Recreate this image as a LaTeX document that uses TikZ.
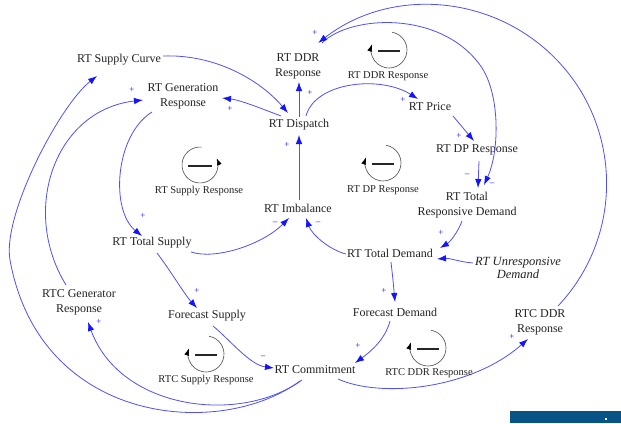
\documentclass[tikz,border=0pt]{standalone}
\usepackage{fontspec}
\setmainfont{Liberation Serif}
\usetikzlibrary{arrows.meta,calc}
\definecolor{lnk}{RGB}{80,80,245}
\definecolor{arr}{RGB}{20,20,255}
\definecolor{barc}{RGB}{8,84,134}
\definecolor{txt}{RGB}{35,35,35}
\tikzset{
  var/.style={inner sep=1pt, align=center, font=\fontsize{12}{15}\selectfont, text=txt},
  link/.style={draw=lnk, line width=0.8pt, -{Latex[length=9pt,width=6.5pt,color=arr]}},
  pol/.style={text=arr, font=\fontsize{9}{9}\selectfont, inner sep=0pt},
  looplab/.style={font=\fontsize{10.5}{12}\selectfont, text=txt, inner sep=0pt},
  loopc/.style={draw=black!70, line width=0.6pt, -{Latex[length=7pt,width=5pt,color=black]}},
  loopminus/.style={draw=black!85, line width=1.1pt},
}
\begin{document}
\begin{tikzpicture}[x=1pt,y=-1pt]
\fill[white] (0,0) rectangle (621,423);
\useasboundingbox (0,0) rectangle (621,423);

% variables
\node[var] (supcurve) at (119,60) {RT Supply Curve};
\node[var] (genresp) at (183,96) {RT Generation\\Response};
\node[var] (ddrresp) at (298,66) {RT DDR\\Response};
\node[var] (dispatch) at (299,125) {RT Dispatch};
\node[var] (price) at (430,107) {RT Price};
\node[var] (dpresp) at (477,150) {RT DP Response};
\node[var] (totresp) at (467,205) {RT Total\\Responsive Demand};
\node[var] (imbal) at (298,208) {RT Imbalance};
\node[var] (totsup) at (152,243) {RT Total Supply};
\node[var] (totdem) at (390,253) {RT Total Demand};
\node[var, font=\fontsize{12.5}{13}\selectfont\itshape] (unresp) at (518,268) {RT Unresponsive\\Demand};
\node[var] (rtcgen) at (79,302) {RTC Generator\\Response};
\node[var] (fsup) at (207,316) {Forecast Supply};
\node[var] (fdem) at (395,312) {Forecast Demand};
\node[var] (rtcddr) at (540,322) {RTC DDR\\Response};
\node[var] (commit) at (315,370) {RT Commitment};

% connectors
\draw[link] ([shift={(44,-4)}]supcurve.center) .. controls (215,54) and (260,80) .. ([shift={(-11,-12)}]dispatch.center);
\draw[link] ([shift={(-18,-9)}]dispatch.center) .. controls (260,108) and (240,100) .. ([shift={(39,2)}]genresp.center);
\draw[link] ([shift={(0,-8)}]dispatch.center) -- ([shift={(1,16)}]ddrresp.center);
\draw[link] ([shift={(1,-8)}]imbal.center) -- ([shift={(0,10)}]dispatch.center);
\draw[link] ([shift={(7,-9)}]dispatch.center) .. controls (315,82) and (380,75) .. ([shift={(-12,-8)}]price.center);
\draw[link] ([shift={(23,9)}]price.center) -- ([shift={(-3,-9)}]dpresp.center);
\draw[link] ([shift={(2,11)}]dpresp.center) -- ([shift={(11,-17)}]totresp.center);
\draw[link] ([shift={(24,-23)}]ddrresp.center) .. controls (350,15) and (440,10) .. (480,65)
            .. controls (500,92) and (500,150) .. ([shift={(17,-20)}]totresp.center);
\draw[link] ([shift={(-5,16)}]totresp.center) .. controls (458,232) and (450,242) .. ([shift={(50,-5)}]totdem.center);
\draw[link] ([shift={(-45,-5)}]unresp.center) .. controls (460,262) and (450,258) .. ([shift={(47,6)}]totdem.center);
\draw[link] ([shift={(-44,1)}]totdem.center) .. controls (330,250) and (312,235) .. ([shift={(8,10)}]imbal.center);
\draw[link] ([shift={(39,9)}]totsup.center) .. controls (215,260) and (262,245) .. ([shift={(-9,10)}]imbal.center);
\draw[link] ([shift={(-31,16)}]genresp.center) .. controls (115,135) and (110,210) .. ([shift={(-10,-7)}]totsup.center);
\draw[link] ([shift={(5,10)}]totsup.center) .. controls (170,270) and (185,295) .. ([shift={(-10,-8)}]fsup.center);
\draw[link] ([shift={(6,10)}]fsup.center) .. controls (230,340) and (250,365) .. ([shift={(-41,-2)}]commit.center);
\draw[link] ([shift={(-5,9)}]fdem.center) .. controls (385,340) and (370,352) .. ([shift={(40,-7)}]commit.center);
\draw[link] ([shift={(1,9)}]totdem.center) .. controls (393,280) .. ([shift={(0,-10)}]fdem.center);
\draw[link] ([shift={(23,9)}]commit.center) .. controls (380,398) and (470,390) .. ([shift={(-12,17)}]rtcddr.center);
\draw[link] ([shift={(-13,10)}]commit.center) .. controls (240,425) and (120,410) .. ([shift={(9,20)}]rtcgen.center);
\draw[link] ([shift={(-15,11)}]commit.center) .. controls (220,440) and (40,425) .. (10,260)
            .. controls (2,215) and (60,105) .. ([shift={(-22,16)}]supcurve.center);
\draw[link] ([shift={(-13,-17)}]rtcgen.center) .. controls (20,210) and (55,110) .. ([shift={(-40,4)}]genresp.center);
\draw[link] ([shift={(18,-16)}]rtcddr.center) arc[start angle=43.3, end angle=-128, radius=178.5];

% polarities
\node[pol] (p2) at (230,109) {+};
\node[pol] (p3) at (310,93) {+};
\node[pol] (p4) at (287,145) {+};
\node[pol] (p5) at (403,100) {+};
\node[pol] (p6) at (459,136) {+};
\node[pol] (p7) at (467,175) {–};
\node[pol] (p8) at (492,184) {–};
\node[pol] (p9) at (441,233) {+};
\node[pol] (p11) at (318,223) {–};
\node[pol] (p12) at (275,223) {–};
\node[pol] (p13) at (143,216) {+};
\node[pol] (p14) at (197,291) {+};
\node[pol] (p15) at (263,357) {–};
\node[pol] (p16) at (358,346) {+};
\node[pol] (p17) at (384,291) {+};
\node[pol] (p18) at (512,337) {+};
\node[pol] (p19) at (99,322) {+};
\node[pol] (p21) at (132,90) {+};
\node[pol] (p22) at (315,33) {+};

% loop icons
\coordinate (l1) at (200,165);
\coordinate (l2) at (389,50);
\coordinate (l3) at (383,163);
\coordinate (l4) at (206,354);
\coordinate (l5) at (428,348);
\draw[loopc] ($(l1)+(-85:18)$) arc[start angle=-85, end angle=-382, radius=18];
\draw[loopminus] ($(l1)+(-12,1)$) -- ($(l1)+(12,1)$);
\node[looplab] (lab1) at (199,191) {RT Supply Response};
\foreach \c in {l2,l3,l4,l5}{
  \draw[loopc] ($(\c)+(-80:18)$) arc[start angle=-80, end angle=198, radius=18];
  \draw[loopminus] ($(\c)+(-11,1)$) -- ($(\c)+(11,1)$);
}
\node[looplab] (lab2) at (388,76) {RT DDR Response};
\node[looplab] (lab3) at (383,190) {RT DP Response};
\node[looplab] (lab4) at (206,380) {RTC Supply Response};
\node[looplab] (lab5) at (429,373) {RTC DDR Response};

% bottom bar
\fill[barc] (510,411) rectangle (621,423);
\fill[white] (605,418) rectangle (607,420);
\end{tikzpicture}
\end{document}
